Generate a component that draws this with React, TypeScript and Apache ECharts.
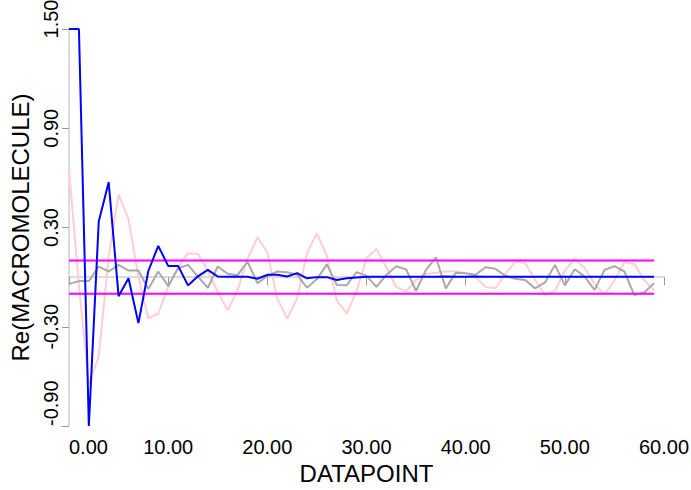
import React, { useEffect, useRef } from "react";
import * as echarts from "echarts";

const xTickLabels = ["0.00", "10.00", "20.00", "30.00", "40.00", "50.00", "60.00"];
const yTickValues = [-0.9, -0.3, 0.3, 0.9, 1.5];

const blueValues = [
  1.5, 1.5, -0.9, 0.336, 0.574, -0.115, -0.007, -0.278, 0.037, 0.189,
  0.068, 0.068, -0.05, 0.005, 0.044, 0.004, 0.003, 0.002, 0.002, -0.01,
  0.014, 0.014, 0.004, 0.024, -0.007, 0.0, 0.0, -0.017, -0.007, -0.002,
  0.002, 0.003, 0.002, 0.002, 0.003, 0.002, 0.002, 0.003, 0.004, 0.003,
  0.003, 0.004, 0.002, 0.002, 0.003, 0.003, 0.002, 0.002, 0.003, 0.003,
  0.003, 0.003, 0.003, 0.003, 0.003, 0.003, 0.003, 0.003, 0.003, 0.003,
];

const grayValues = [
  -0.041, -0.024, -0.024, 0.064, 0.034, 0.074, 0.04, 0.04, -0.072, 0.034,
  -0.053, 0.054, 0.074, 0.003, -0.064, 0.064, 0.02, 0.012, 0.094, -0.036,
  0.006, 0.034, 0.03, 0.014, -0.064, -0.012, 0.077, -0.047, -0.049, 0.03,
  0.008, -0.059, 0.013, 0.066, 0.046, -0.084, 0.044, 0.12, -0.068, 0.026,
  0.024, 0.014, 0.06, 0.05, 0.008, -0.01, -0.017, -0.068, -0.032, 0.074,
  -0.05, 0.048, 0.003, -0.077, 0.044, 0.066, 0.034, -0.108, -0.093, -0.037,
];

const pinkValues = [
  0.648, -0.05, -0.65, -0.48, 0.12, 0.5, 0.35, 0.0, -0.25, -0.22,
  -0.06, 0.06, 0.145, 0.14, 0.04, -0.09, -0.2, -0.08, 0.11, 0.24,
  0.15, -0.13, -0.25, -0.13, 0.145, 0.265, 0.13, -0.14, -0.22, -0.085,
  0.115, 0.17, 0.06, -0.06, -0.087, -0.017, 0.019, 0.027, 0.034, 0.035,
  0.024, 0.0, -0.06, -0.067, 0.019, 0.094, 0.085, -0.017, -0.108, -0.085,
  0.04, 0.11, 0.055, -0.04, -0.105, -0.022, 0.09, 0.08, -0.017, -0.08,
];

const upperLimit = 0.1;
const lowerLimit = -0.1;
const limitXs = [0, 59];

const FONT = "'Liberation Sans', Arial, Helvetica, sans-serif";

export default function App() {
  const ref = useRef<HTMLDivElement>(null);

  useEffect(() => {
    if (!ref.current) return;
    const chart = echarts.init(ref.current, null, { renderer: "svg" });
    const toPairs = (arr: number[]) => arr.map((v, i) => [i, v]);
    const lineSeries = (name: string, data: number[][], color: string, z: number) => ({
      name,
      type: "line",
      data,
      showSymbol: false,
      symbol: "none",
      lineStyle: { color, width: 2 },
      z,
      clip: true,
    });
    const yMax = yTickValues[yTickValues.length - 1];
    chart.setOption({
      animation: false,
      backgroundColor: "#ffffff",
      grid: { left: 69, right: 27, top: 29, bottom: 64, outerBoundsMode: "none", containLabel: false },
      xAxis: {
        type: "value",
        min: 0,
        max: 60,
        interval: 10,
        name: "DATAPOINT",
        nameLocation: "middle",
        nameGap: 34,
        nameTextStyle: { fontFamily: FONT, fontSize: 24, color: "#000" },
        axisLine: { show: true, lineStyle: { color: "#cfcfcf", width: 1.5 } },
        axisTick: { show: true, length: 8, lineStyle: { color: "#999", width: 1 } },
        axisLabel: {
          fontFamily: FONT,
          fontSize: 20,
          color: "#000",
          margin: 11,
          alignMinLabel: "left",
          formatter: (v: number) => xTickLabels[Math.round(v / 10)] ?? v.toFixed(2),
        },
        splitLine: { show: false },
      },
      yAxis: {
        type: "value",
        min: -0.9,
        max: 1.5,
        name: "Re(MACROMOLECULE)",
        nameLocation: "middle",
        nameGap: 37,
        nameTextStyle: { fontFamily: FONT, fontSize: 24, color: "#000" },
        axisLine: { show: true, lineStyle: { color: "#cfcfcf", width: 1.5 } },
        axisTick: {
          show: true,
          length: 7,
          customValues: yTickValues,
          lineStyle: { color: "#999", width: 1 },
        },
        axisLabel: {
          fontFamily: FONT,
          fontSize: 20,
          color: "#000",
          rotate: 90,
          margin: 8,
          customValues: yTickValues,
          alignMinLabel: "left",
          formatter: (v: number) =>
            Math.abs(v - yMax) < 1e-9 ? `{top|${v.toFixed(2)}}` : v.toFixed(2),
          rich: {
            top: { fontFamily: FONT, fontSize: 20, color: "#000", padding: [0, 0, 0, 20] },
          },
        },
        splitLine: { show: false },
      },
      series: [
        lineSeries("pink", toPairs(pinkValues), "#ffcfcf", 1),
        lineSeries("gray", toPairs(grayValues), "#aaaaaa", 2),
        lineSeries("upper", limitXs.map((x) => [x, upperLimit]), "#ff00ff", 3),
        lineSeries("lower", limitXs.map((x) => [x, lowerLimit]), "#ff00ff", 3),
        lineSeries("blue", toPairs(blueValues), "#0000ff", 4),
      ],
    });
    return () => chart.dispose();
  }, []);

  return <div ref={ref} style={{ width: 691, height: 490, position: "absolute", left: 0, top: 0 }} />;
}
